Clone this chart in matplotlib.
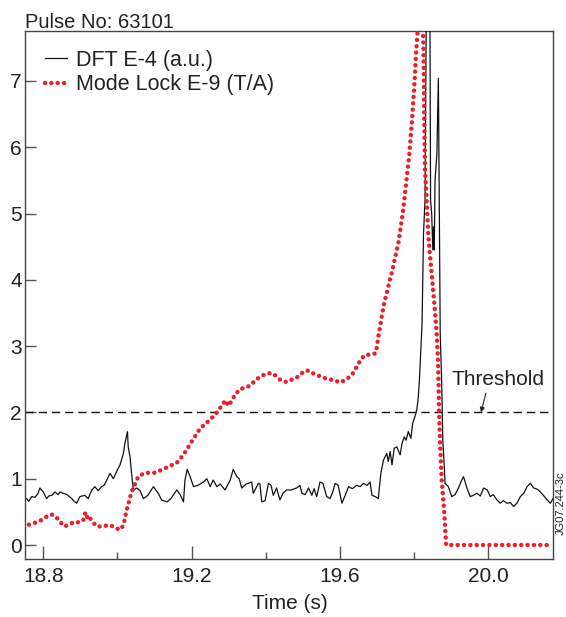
import numpy as np
import matplotlib
matplotlib.use("Agg")
import matplotlib.pyplot as plt

plt.rcParams['font.family'] = ['Liberation Sans', 'DejaVu Sans']

# DFT E-4 (a.u.)
dft_time = [18.755, 18.761, 18.769, 18.778, 18.786, 18.791, 18.800, 18.809, 18.815, 18.823,
            18.832, 18.840, 18.845, 18.854, 18.864, 18.877, 18.883, 18.890, 18.899, 18.912,
            18.921, 18.931, 18.939, 18.948, 18.957, 18.964, 18.971, 18.980, 18.989, 18.998,
            19.007, 19.016, 19.020, 19.027, 19.029, 19.034, 19.038, 19.043, 19.052, 19.061,
            19.070, 19.082, 19.097, 19.110, 19.119, 19.133, 19.144, 19.160, 19.169, 19.178,
            19.182, 19.188, 19.196, 19.205, 19.217, 19.232, 19.241, 19.250, 19.258, 19.268,
            19.277, 19.290, 19.304, 19.312, 19.322, 19.328, 19.335, 19.347, 19.362, 19.366,
            19.380, 19.384, 19.389, 19.398, 19.407, 19.414, 19.420, 19.429, 19.438, 19.446,
            19.456, 19.468, 19.483, 19.492, 19.497, 19.506, 19.515, 19.524, 19.530, 19.537,
            19.546, 19.554, 19.564, 19.573, 19.579, 19.587, 19.595, 19.605, 19.614, 19.623,
            19.633, 19.645, 19.654, 19.663, 19.673, 19.681, 19.686, 19.695, 19.703, 19.710,
            19.717, 19.726, 19.730, 19.735, 19.740, 19.746, 19.753, 19.762, 19.767, 19.773,
            19.778, 19.784, 19.791, 19.796, 19.802, 19.807, 19.811, 19.814, 19.821, 19.825,
            19.829, 19.833, 19.842, 19.844, 19.847, 19.850, 19.852, 19.854, 19.856, 19.861,
            19.865, 19.870, 19.872, 19.874, 19.877, 19.881, 19.883, 19.892, 19.901, 19.910,
            19.919, 19.928, 19.933, 19.942, 19.951, 19.959, 19.969, 19.978, 19.987, 19.997,
            20.005, 20.013, 20.023, 20.032, 20.040, 20.050, 20.059, 20.068, 20.078, 20.086,
            20.095, 20.104, 20.113, 20.122, 20.132, 20.140, 20.148, 20.158, 20.167, 20.174]
dft_value = [0.70, 0.66, 0.73, 0.72, 0.78, 0.86, 0.80, 0.70, 0.74, 0.75,
             0.80, 0.76, 0.80, 0.78, 0.76, 0.70, 0.66, 0.63, 0.73, 0.75,
             0.70, 0.83, 0.88, 0.82, 0.88, 0.90, 0.98, 1.08, 1.00, 1.11,
             1.21, 1.38, 1.53, 1.71, 1.48, 1.33, 1.08, 0.83, 0.86, 0.82,
             0.70, 0.75, 0.88, 0.78, 0.68, 0.65, 0.70, 0.83, 0.76, 0.65,
             0.98, 1.14, 1.03, 0.88, 0.90, 0.95, 1.00, 0.88, 0.98, 0.88,
             0.92, 0.83, 0.98, 1.14, 1.03, 1.00, 0.86, 0.92, 0.95, 0.78,
             0.93, 0.92, 0.65, 0.67, 0.93, 0.90, 0.75, 0.86, 0.68, 0.78,
             0.83, 0.83, 0.86, 0.90, 0.78, 0.76, 0.86, 0.75, 0.85, 0.73,
             0.95, 0.93, 0.73, 0.70, 0.78, 0.93, 0.90, 0.63, 0.75, 0.88,
             0.85, 0.90, 0.88, 0.93, 0.90, 0.95, 0.75, 0.73, 0.70, 1.08,
             1.28, 1.38, 1.26, 1.41, 1.21, 1.46, 1.48, 1.36, 1.53, 1.63,
             1.58, 1.71, 1.61, 1.84, 1.94, 2.04, 2.24, 2.49, 3.34, 4.70,
             5.20, 8.50, 8.50, 5.20, 5.00, 4.45, 4.80, 4.45, 5.50, 5.90,
             7.04, 3.19, 2.79, 2.44, 1.58, 1.18, 0.93, 0.88, 0.73, 0.76,
             0.86, 0.98, 1.03, 0.86, 0.73, 0.75, 0.78, 0.74, 0.86, 0.83,
             0.73, 0.76, 0.68, 0.63, 0.67, 0.63, 0.64, 0.58, 0.64, 0.73,
             0.78, 0.88, 0.93, 0.86, 0.84, 0.80, 0.75, 0.68, 0.63, 0.70]

# Mode Lock E-9 (T/A)
ml_time = [18.745, 18.770, 18.790, 18.810, 18.823, 18.835, 18.845, 18.858, 18.872, 18.885,
           18.899, 18.908, 18.913, 18.917, 18.922, 18.930, 18.944, 18.960, 18.975, 18.990,
           19.002, 19.011, 19.018, 19.025, 19.038, 19.056, 19.074, 19.101, 19.133, 19.160,
           19.178, 19.200, 19.223, 19.250, 19.268, 19.277, 19.285, 19.293, 19.298, 19.304,
           19.312, 19.329, 19.342, 19.356, 19.368, 19.380, 19.392, 19.406, 19.419, 19.429,
           19.441, 19.455, 19.468, 19.482, 19.494, 19.506, 19.517, 19.530, 19.544, 19.557,
           19.571, 19.587, 19.600, 19.614, 19.627, 19.636, 19.643, 19.651, 19.659, 19.669,
           19.683, 19.695, 19.699, 19.703, 19.708, 19.713, 19.719, 19.726, 19.733, 19.740,
           19.747, 19.757, 19.769, 19.778, 19.787, 19.794, 19.800, 19.805, 19.812, 19.823,
           19.825, 19.827, 19.829, 19.834, 19.838, 19.846, 19.854, 19.861, 19.864, 19.866,
           19.867, 19.870, 19.874, 19.881, 19.886, 20.163]
ml_value = [0.28, 0.32, 0.36, 0.43, 0.46, 0.42, 0.35, 0.28, 0.32, 0.35,
            0.34, 0.38, 0.48, 0.41, 0.45, 0.37, 0.28, 0.28, 0.30, 0.28,
            0.24, 0.24, 0.35, 0.53, 0.80, 1.03, 1.09, 1.09, 1.17, 1.24,
            1.36, 1.56, 1.76, 1.89, 2.00, 2.07, 2.14, 2.18, 2.10, 2.14,
            2.22, 2.35, 2.37, 2.40, 2.46, 2.52, 2.56, 2.59, 2.59, 2.54,
            2.48, 2.46, 2.49, 2.52, 2.58, 2.63, 2.63, 2.58, 2.55, 2.52,
            2.50, 2.48, 2.45, 2.49, 2.54, 2.60, 2.67, 2.75, 2.82, 2.87,
            2.87, 2.89, 2.98, 3.14, 3.29, 3.47, 3.65, 3.80, 3.97, 4.12,
            4.30, 4.55, 5.00, 5.45, 5.91, 6.41, 6.91, 7.42, 8.00, 8.00,
            7.42, 6.41, 5.66, 5.15, 4.65, 4.15, 3.65, 3.14, 2.80, 2.30,
            1.99, 1.48, 0.98, 0.48, 0.00, 0.00]

threshold = 2.0
x_ticks = [18.8, 19.2, 19.6, 20.0]
x_minor = [19.0, 19.4, 19.8]
y_ticks = [0, 1, 2, 3, 4, 5, 6, 7]

W, H = 566, 617
fig = plt.figure(figsize=(W / 100, H / 100), dpi=100)
ax = fig.add_axes([24.7 / W, 1 - 559 / H, (553 - 24.7) / W, (559 - 31) / H])

ax.plot(dft_time, dft_value, color='#111111', lw=0.9, label='DFT E-4 (a.u.)', zorder=3)
ax.plot(ml_time, ml_value, color='#e8202a', lw=3.2, linestyle=(0, (0.01, 1.42)),
        dash_capstyle='round', solid_capstyle='round', label='Mode Lock E-9 (T/A)', zorder=4)
ax.axhline(threshold, color='#111111', lw=1.0, linestyle=(0, (6, 3.5)), zorder=2)

ax.annotate('', xy=(19.980, 2.0), xytext=(19.993, 2.29),
            arrowprops=dict(arrowstyle='-|>', color='#222222', lw=0.8,
                            mutation_scale=7, shrinkA=0, shrinkB=0))
ax.text(20.026, 2.41, 'Threshold', fontsize=15, ha='center', va='baseline', color='#222222')

ax.set_xlim(18.75, 20.174)
ax.set_ylim(-0.211, 7.753)
ax.set_xticks(x_ticks)
ax.set_xticklabels([f'{v:.1f}' for v in x_ticks])
ax.set_xticks(x_minor, minor=True)
ax.set_yticks(y_ticks)
ax.tick_params(axis='both', which='major', direction='in', labelsize=15, color='#555555',
               labelcolor='#222222', width=1.0)
ax.tick_params(axis='x', which='major', length=9.5, pad=6)
ax.tick_params(axis='x', which='minor', direction='in', length=5, color='#555555', width=1.0)
ax.tick_params(axis='y', which='major', length=8, pad=2)
for s in ax.spines.values():
    s.set_color('#444444')
    s.set_linewidth(1.0)

leg = ax.legend(loc='upper left', bbox_to_anchor=(45 / W, 1 - 50 / H),
                bbox_transform=fig.transFigure, frameon=False, fontsize=15.5,
                handlelength=1.0, handletextpad=0.45, labelspacing=0.15,
                borderpad=0, borderaxespad=0)
for t in leg.get_texts():
    t.set_color('#222222')

fig.text(25 / W, 1 - 28 / H, 'Pulse No: 63101', fontsize=14.5, ha='left', va='baseline',
         color='#222222')
fig.text(290 / W, 1 - 609 / H, 'Time (s)', fontsize=15, ha='center', va='baseline',
         color='#222222')
fig.text(561 / W, 1 - 503 / H, 'JG07.244-3c', fontsize=8, rotation=90, ha='center',
         va='center', color='#222222')

fig.savefig('out.png', dpi=100)
